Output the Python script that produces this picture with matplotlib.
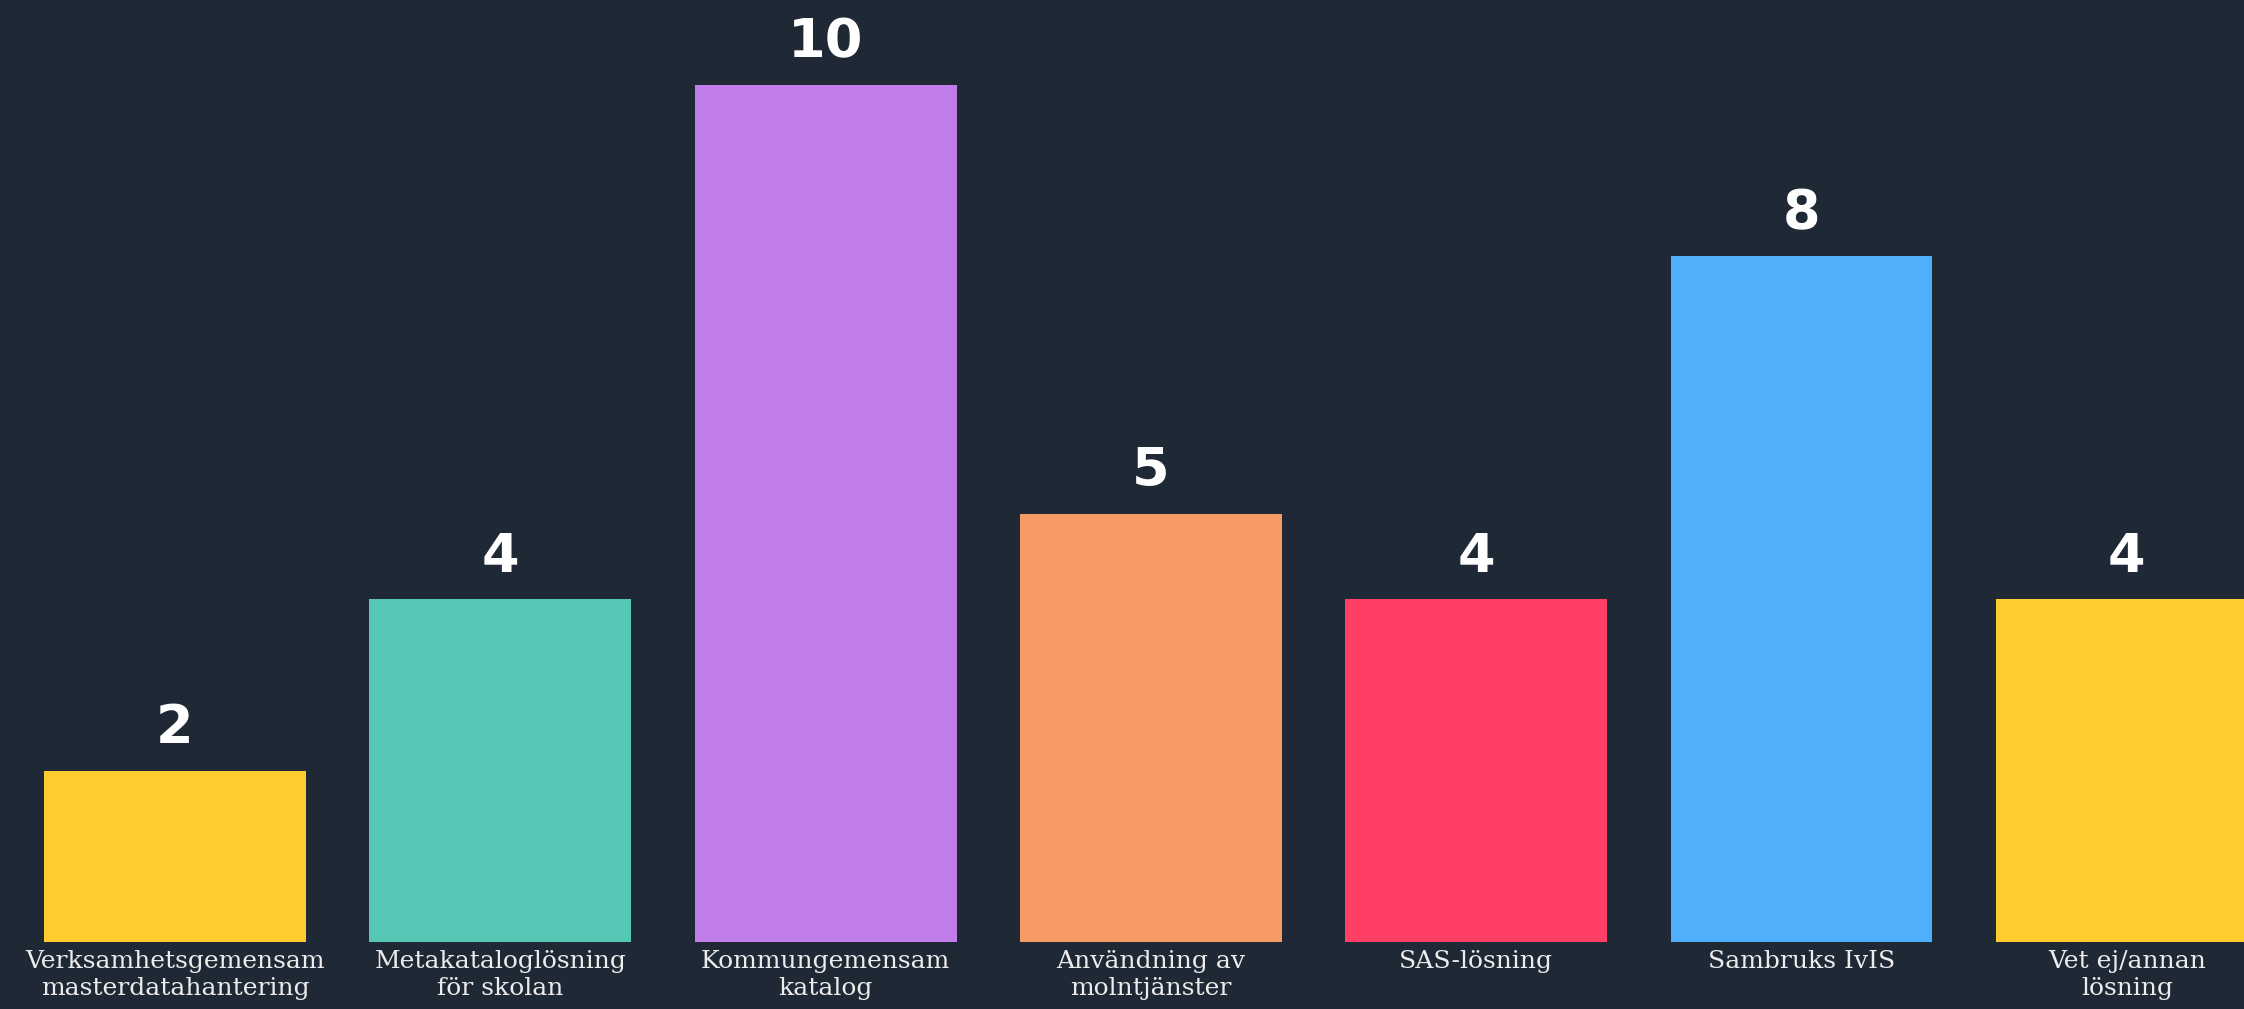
import matplotlib
matplotlib.use("Agg")
import matplotlib.pyplot as plt

categories = ["Verksamhetsgemensam\nmasterdatahantering", "Metakatalogl\u00f6sning\nf\u00f6r skolan",
              "Kommungemensam\nkatalog", "Anv\u00e4ndning av\nmolntj\u00e4nster", "SAS-l\u00f6sning",
              "Sambruks IvIS", "Vet ej/annan\nl\u00f6sning"]
values = [2, 4, 10, 5, 4, 8, 4]
colors = ["#FFCB2F", "#55C7B5", "#C07DEA", "#F79A64", "#FF3F66", "#4FAFFB", "#FFCB2F"]

bg = "#1f2936"
W, H, dpi = 2244, 1009, 100
fig = plt.figure(figsize=(W / dpi, H / dpi), dpi=dpi, facecolor=bg)
ax = fig.add_axes([0, 67 / H, 1, 1 - 67 / H])
ax.set_facecolor(bg)

x = list(range(len(values)))
ax.bar(x, values, width=0.805, color=colors)
ax.set_xlim(-175 / 325.3, (W - 175) / 325.3)
ax.set_ylim(0, 942 / 85.7)

for xi, v in zip(x, values):
    ax.annotate(str(v), (xi, v), xytext=(0, 12), textcoords="offset points",
                ha="center", va="bottom", fontsize=39, fontweight="bold",
                color="white", family="DejaVu Sans")

ax.set_xticks(x)
ax.set_xticklabels(categories, fontsize=18, color="#ececec", family="DejaVu Serif",
                   linespacing=1.2, va="top")
ax.tick_params(axis="x", length=0, pad=6)
ax.set_yticks([])
for s in ax.spines.values():
    s.set_visible(False)

fig.savefig("out.png", dpi=dpi, facecolor=bg)
